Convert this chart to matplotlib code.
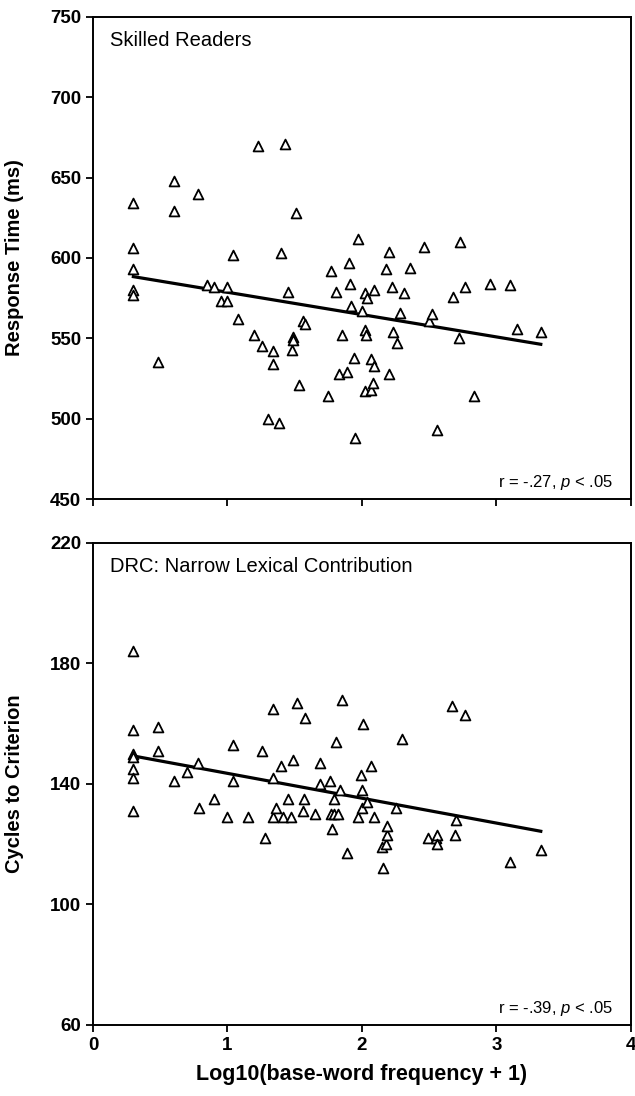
import numpy as np
import matplotlib
matplotlib.use("Agg")
import matplotlib.pyplot as plt

plt.rcParams['font.family'] = ['Liberation Sans', 'DejaVu Sans']
plt.rcParams['mathtext.fontset'] = 'custom'
plt.rcParams['mathtext.it'] = 'Liberation Sans:italic'
plt.rcParams['mathtext.rm'] = 'Liberation Sans'

# skilled readers: log10 frequency vs response time (ms)
freq_top = [0.30, 0.30, 0.30, 0.30, 0.30, 0.48, 0.60, 0.60, 0.78, 0.85,
            0.90, 0.95, 1.00, 1.00, 1.04, 1.08, 1.20, 1.23, 1.26, 1.30,
            1.34, 1.34, 1.38, 1.40, 1.43, 1.45, 1.48, 1.49, 1.49, 1.51,
            1.53, 1.56, 1.58, 1.75, 1.77, 1.81, 1.83, 1.85, 1.89, 1.90,
            1.91, 1.92, 1.94, 1.95, 1.97, 2.00, 2.02, 2.02, 2.02, 2.03,
            2.04, 2.07, 2.07, 2.08, 2.09, 2.09, 2.18, 2.20, 2.20, 2.22,
            2.23, 2.26, 2.28, 2.31, 2.36, 2.46, 2.50, 2.52, 2.56, 2.68,
            2.72, 2.73, 2.77, 2.83, 2.95, 3.10, 3.15, 3.33]
rt = [634, 606, 593, 580, 577, 535, 648, 629, 640, 583,
      582, 573, 582, 573, 602, 562, 552, 670, 545, 500,
      542, 534, 497, 603, 671, 579, 543, 551, 549, 628,
      521, 561, 559, 514, 592, 579, 528, 552, 529, 597,
      584, 570, 538, 488, 612, 567, 555, 517, 578, 552,
      575, 537, 518, 522, 533, 580, 593, 528, 604, 582,
      554, 547, 566, 578, 594, 607, 561, 565, 493, 576,
      550, 610, 582, 514, 584, 583, 556, 554]

# DRC model: cycles to criterion
freq_bot = [0.30, 0.30, 0.30, 0.30, 0.30, 0.30, 0.30, 0.48, 0.48, 0.60,
            0.70, 0.78, 0.79, 0.90, 1.00, 1.04, 1.04, 1.15, 1.26, 1.28,
            1.34, 1.34, 1.34, 1.36, 1.40, 1.41, 1.45, 1.47, 1.49, 1.52,
            1.56, 1.57, 1.58, 1.65, 1.69, 1.69, 1.76, 1.77, 1.78, 1.79,
            1.79, 1.81, 1.82, 1.84, 1.85, 1.89, 1.97, 1.99, 2.00, 2.00,
            2.01, 2.04, 2.07, 2.09, 2.15, 2.16, 2.18, 2.19, 2.19, 2.25,
            2.30, 2.49, 2.55, 2.56, 2.56, 2.67, 2.69, 2.70, 2.77, 3.10,
            3.33]
cycles = [184, 158, 150, 149, 145, 142, 131, 159, 151, 141,
          144, 147, 132, 135, 129, 141, 153, 129, 151, 122,
          165, 142, 129, 132, 146, 129, 135, 129, 148, 167,
          131, 135, 162, 130, 140, 147, 141, 130, 125, 130,
          135, 154, 130, 138, 168, 117, 129, 143, 132, 138,
          160, 134, 146, 129, 119, 112, 120, 123, 126, 132,
          155, 122, 122, 123, 120, 166, 123, 128, 163, 114,
          118]

# regression lines as drawn
fit_x = [0.30, 3.33]
fit_top = [588.4, 546.3]
fit_bot = [149.3, 124.3]

fig = plt.figure(figsize=(6.35, 10.96), dpi=100)
ax1 = fig.add_axes([0.1465, 0.5447, 0.847, 0.4398])
ax2 = fig.add_axes([0.1465, 0.0648, 0.847, 0.4398])

tri = dict(marker='^', s=50, facecolors='white', edgecolors='black',
           linewidths=1.3, zorder=3)

ax1.scatter(freq_top, rt, **tri)
ax1.plot(fit_x, fit_top, color='black', lw=2.3, zorder=2)
ax1.set_ylim(450, 750)
ax1.set_yticks(np.arange(450, 751, 50))
ax1.set_ylabel('Response Time (ms)', fontsize=14.5, fontweight='bold')
ax1.text(0.032, 0.97, 'Skilled Readers', transform=ax1.transAxes,
         fontsize=14.5, va='top', ha='left')
ax1.text(0.966, 0.024, r'r = -.27, $p$ < .05', transform=ax1.transAxes,
         fontsize=12, ha='right', va='baseline')

ax2.scatter(freq_bot, cycles, **tri)
ax2.plot(fit_x, fit_bot, color='black', lw=2.3, zorder=2)
ax2.set_ylim(60, 220)
ax2.set_yticks(np.arange(60, 221, 40))
ax2.set_ylabel('Cycles to Criterion', fontsize=14.5, fontweight='bold')
ax2.text(0.032, 0.97, 'DRC: Narrow Lexical Contribution', transform=ax2.transAxes,
         fontsize=14.5, va='top', ha='left')
ax2.text(0.966, 0.024, r'r = -.39, $p$ < .05', transform=ax2.transAxes,
         fontsize=12, ha='right', va='baseline')
ax2.set_xlabel('Log10(base-word frequency + 1)', fontsize=15.5,
               fontweight='bold')
ax2.xaxis.set_label_coords(0.5, -0.08)

for ax in (ax1, ax2):
    ax.set_xlim(0, 4)
    ax.set_xticks(range(5))
    for sp in ax.spines.values():
        sp.set_linewidth(1.4)
    ax.tick_params(direction='out', length=5, width=1.3, labelsize=13.5)
    for lab in ax.get_xticklabels() + ax.get_yticklabels():
        lab.set_fontweight('bold')
    ax.yaxis.set_label_coords(-0.128, 0.5)
ax1.tick_params(labelbottom=False)

fig.savefig('out.png', dpi=100)
